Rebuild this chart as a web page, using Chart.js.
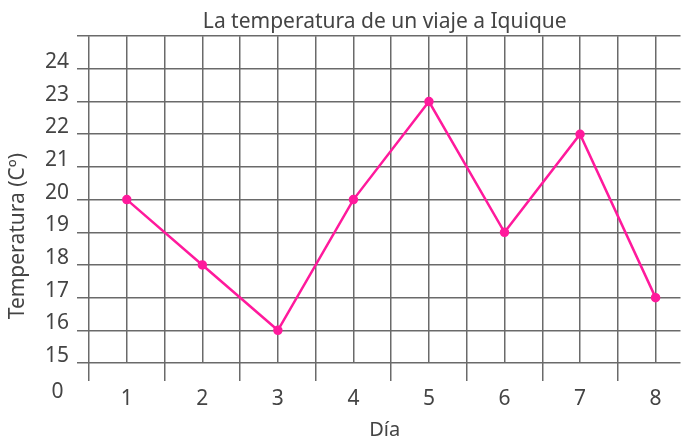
<!DOCTYPE html>
<html>
<head>
<meta charset="utf-8">
<script src="https://cdn.jsdelivr.net/npm/chart.js@4.4.1/dist/chart.umd.min.js"></script>
<style>
  html, body { margin: 0; padding: 0; background: #fff; }
  #wrap { width: 687px; height: 440px; }
</style>
</head>
<body>
<div id="wrap"><canvas id="chart"></canvas></div>
<script>
// temperatura por día del viaje
const dias = [1, 2, 3, 4, 5, 6, 7, 8];
const temperaturas = [20, 18, 16, 20, 23, 19, 22, 17];
// ticks del eje y (el 0 va aparte, bajo el corte del eje)
const yTicks = [15, 16, 17, 18, 19, 20, 21, 22, 23, 24, 25];
const yCero = 13.9;
// líneas verticales cada medio día
const xTicks = [0.5, 1, 1.5, 2, 2.5, 3, 3.5, 4, 4.5, 5, 5.5, 6, 6.5, 7, 7.5, 8];

const gridColor = '#6a6a6a';
const textColor = '#444';
const font = { family: "'Noto Sans', 'Open Sans', sans-serif", size: 21, weight: 'normal', lineHeight: 1 };

const ctx = document.getElementById('chart').getContext('2d');
new Chart(ctx, {
  type: 'line',
  data: {
    datasets: [{
      data: dias.map((d, i) => ({ x: d, y: temperaturas[i] })),
      borderColor: '#ff1a9c',
      backgroundColor: '#ff1a9c',
      borderWidth: 2.5,
      pointRadius: 3.5,
      tension: 0
    }]
  },
  options: {
    responsive: true,
    maintainAspectRatio: false,
    animation: false,
    layout: { padding: 0 },
    plugins: {
      legend: { display: false },
      tooltip: { enabled: false },
      title: {
        display: true,
        fullSize: false,
        text: 'La temperatura de un viaje a Iquique',
        color: textColor,
        font: { ...font, size: 21, lineHeight: 1.2 },
        padding: { top: 9, bottom: 2 }
      }
    },
    scales: {
      x: {
        type: 'linear',
        min: 0.5,
        max: 8.33,
        afterBuildTicks: scale => { scale.ticks = xTicks.map(v => ({ value: v })); },
        border: { display: false },
        grid: {
          color: gridColor,
          lineWidth: 1.5,
          tickLength: 18,
          tickColor: c => (c.tick && c.tick.value % 1 !== 0) ? gridColor : 'transparent'
        },
        ticks: {
          color: textColor,
          font: font,
          padding: 8,
          maxRotation: 0,
          autoSkip: false,
          callback: v => (v % 1 === 0 ? String(v) : '')
        },
        title: {
          display: true,
          text: 'Día',
          color: textColor,
          font: { ...font, size: 20 },
          padding: { top: 2, bottom: 0 }
        }
      },
      y: {
        min: 15,
        max: 25,
        afterBuildTicks: scale => {
          scale.ticks = [yCero, ...yTicks].map(v => ({ value: v }));
        },
        border: { display: false },
        grid: {
          color: c => (c.tick && c.tick.value < 15) ? 'transparent' : gridColor,
          lineWidth: 1.5,
          tickLength: 12,
          tickColor: c => (c.tick && c.tick.value < 15) ? 'transparent' : gridColor
        },
        ticks: {
          color: textColor,
          font: font,
          padding: 8,
          labelOffset: -7,
          autoSkip: false,
          callback: v => (v < 15 ? '0 ' : v === 25 ? '' : String(v))
        },
        title: {
          display: true,
          align: 'start',
          text: '        Temperatura (Cº)',
          color: textColor,
          font: { ...font, size: 21 },
          padding: { top: 8, bottom: 8 }
        }
      }
    }
  }
});
</script>
</body>
</html>
